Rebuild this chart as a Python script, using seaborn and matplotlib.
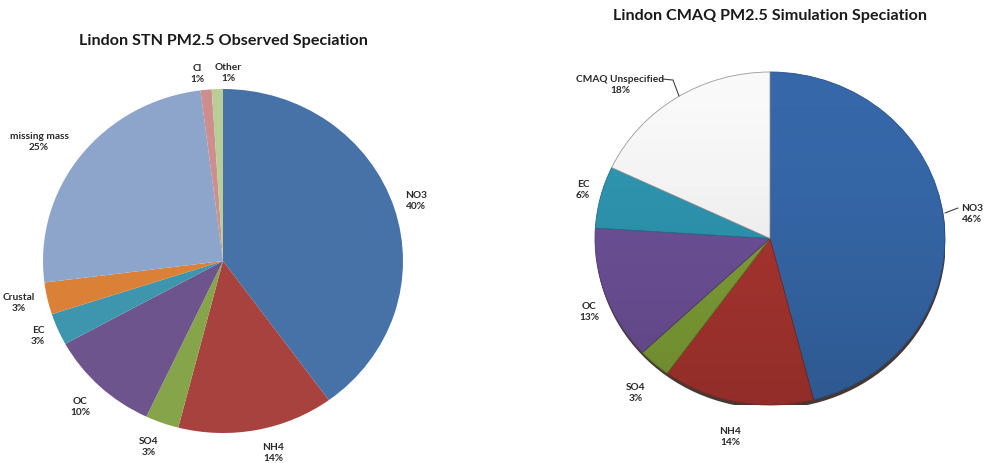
import matplotlib
matplotlib.use("Agg")
import matplotlib.pyplot as plt
import matplotlib.colors as mcolors
import numpy as np
import seaborn as sns
from matplotlib.patches import Ellipse

# Observed speciation (STN), percent of PM2.5 mass, clockwise from 12 o'clock
obs_species = ["NO3", "NH4", "SO4", "OC", "EC", "Crustal", "missing mass", "Cl", "Other"]
obs_values = [40, 14, 3, 10, 3, 3, 25, 1, 1]
obs_colors = ["#4672a8", "#a8423f", "#86a44a", "#6e548d", "#3d96ae",
              "#da8137", "#8ea5cb", "#ce8e8d", "#b9cd96"]

# CMAQ simulated speciation, percent of PM2.5 mass
sim_species = ["NO3", "NH4", "SO4", "OC", "EC", "CMAQ Unspecified"]
sim_values = [46, 14, 3, 13, 6, 18]
sim_colors = ["#3668a9", "#aa3530", "#80a037", "#6e5199", "#2f96b1", "#f9f9f9"]

W, H = 985, 463
sns.set_theme(style="white")
plt.rcParams["font.family"] = ["Lato", "DejaVu Sans"]

fig = plt.figure(figsize=(W / 100, H / 100), dpi=100)
fig.patch.set_facecolor("white")


def px_axes(x0, y0, x1, y1):
    """Axes spanning a pixel box (top-left origin)."""
    ax = fig.add_axes([x0 / W, 1 - y1 / H, (x1 - x0) / W, (y1 - y0) / H])
    ax.axis("off")
    return ax


def fix_limits(ax):
    ax.set_xlim(-1, 1)
    ax.set_ylim(-1, 1)
    ax.set_aspect("auto")


def label(x, y, name, value):
    fig.text(x / W, 1 - y / H, f"{name}\n{value}%", ha="center", va="center",
             fontsize=7.3, fontweight="bold", color="#2a2a2a", linespacing=1.35)


def title(x, y, s):
    fig.text(x / W, 1 - y / H, s, ha="center", va="center",
             fontsize=11.6, fontweight="bold", color="#1a1a1a")


# ---- left pie: observed ----
axl = px_axes(43, 89, 403, 433)
axl.pie(obs_values, colors=obs_colors, startangle=90, counterclock=False,
        radius=1, wedgeprops=dict(linewidth=0), frame=False)
fix_limits(axl)
title(223, 41, "Lindon STN PM2.5 Observed Speciation")

obs_label_pos = {
    "NO3": (416, 201), "NH4": (273, 453), "SO4": (149, 447), "OC": (80, 407),
    "EC": (38, 336), "Crustal": (19, 303), "missing mass": (39, 142),
    "Cl": (197, 74), "Other": (228, 73),
}
for name, v in zip(obs_species, obs_values):
    label(*obs_label_pos[name], name, v)

# ---- right pie: simulated, with shading and a drop shadow ----
axr = px_axes(595, 72, 945, 405)
axr.add_patch(Ellipse((0.004, -0.022), 2.0, 2.0, facecolor="#24150f", alpha=0.85,
                      linewidth=0, zorder=0))
edge_cols = ["#9a9a9a" if c == "#f9f9f9" else
             mcolors.to_hex(np.array(mcolors.to_rgb(c)) * 0.78) for c in sim_colors]
wedges, _ = axr.pie(sim_values, colors=sim_colors, startangle=90, counterclock=False,
                    radius=1, wedgeprops=dict(linewidth=0.6), frame=False)
for w, ec in zip(wedges, edge_cols):
    w.set_edgecolor(ec)
    w.set_zorder(2)

# gentle vertical shading, darker toward the bottom of the disc
disc = Ellipse((0, 0), 2.0, 2.0, transform=axr.transData, facecolor="none", linewidth=0)
axr.add_patch(disc)
ramp = np.linspace(0, 1, 256)
shade = np.zeros((256, 1, 4))
shade[:, 0, 3] = 0.15 * ramp ** 1.6
img = axr.imshow(shade, extent=(-1, 1, -1, 1), origin="upper", aspect="auto",
                 zorder=3, interpolation="bilinear")
img.set_clip_path(disc)
fix_limits(axr)

title(770, 16, "Lindon CMAQ PM2.5 Simulation Speciation")

sim_label_pos = {
    "NO3": (972, 214), "NH4": (730, 437), "SO4": (636, 393), "OC": (589, 312),
    "EC": (583, 190), "CMAQ Unspecified": (620, 85),
}
for name, v in zip(sim_species, sim_values):
    label(*sim_label_pos[name], name, v)


# leader lines from labels to their slices
def leader(points):
    xs = [p[0] / W for p in points]
    ys = [1 - p[1] / H for p in points]
    fig.add_artist(plt.Line2D(xs, ys, color="#404040", linewidth=0.8))


leader([(662, 79), (673, 80), (679, 96)])
leader([(945, 213), (958, 208)])

fig.savefig("out.png", dpi=100, facecolor="white")
